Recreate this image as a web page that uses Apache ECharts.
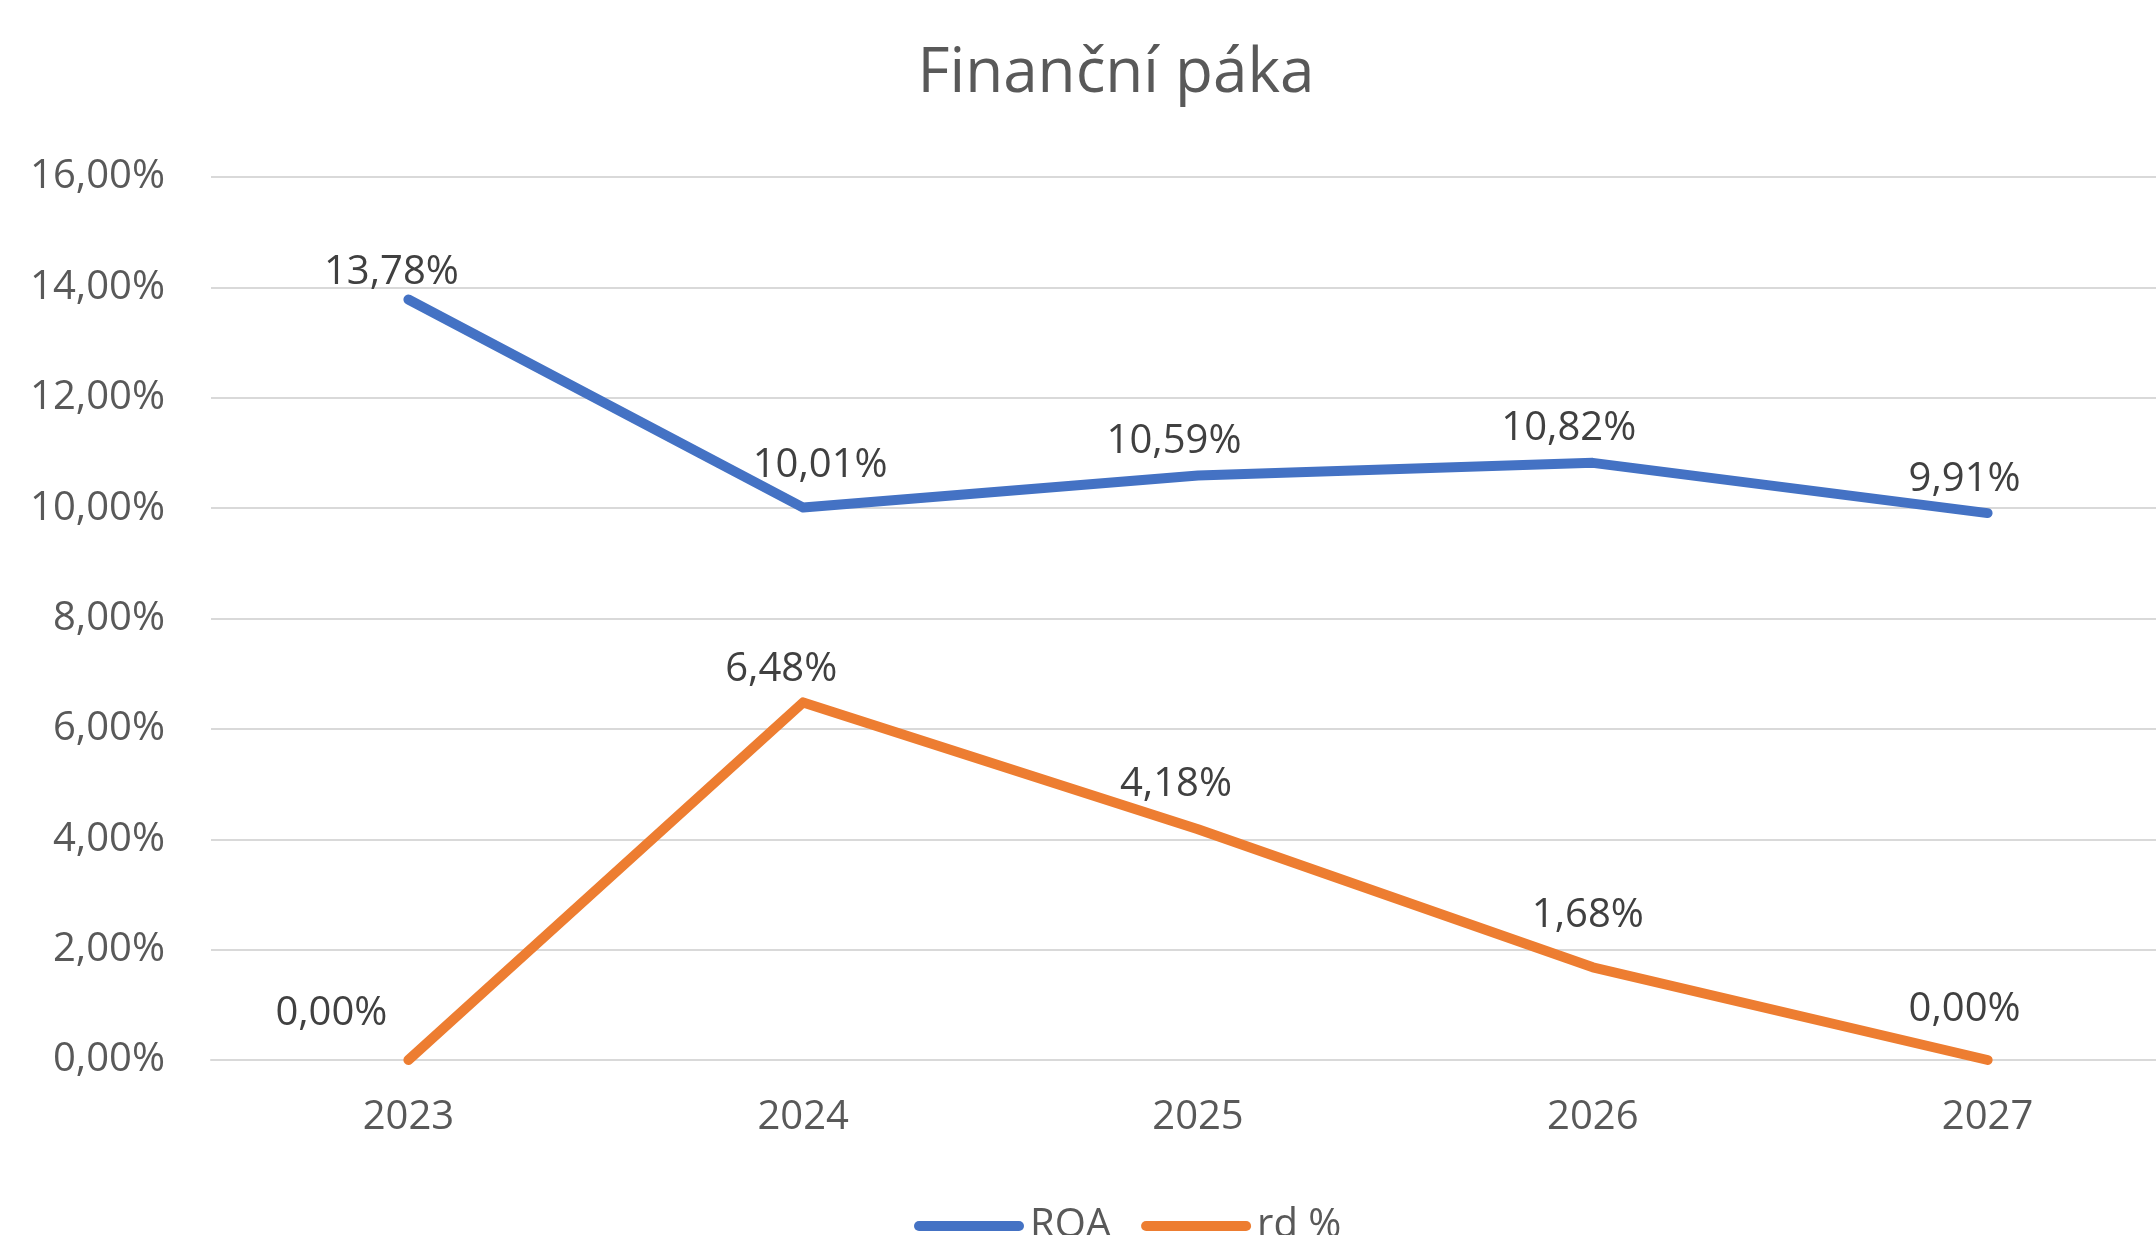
<!DOCTYPE html>
<html>
<head>
<meta charset="utf-8">
<title>Finanční páka</title>
<script src="https://cdn.jsdelivr.net/npm/echarts@6/dist/echarts.min.js"></script>
<style>
  html, body { margin: 0; padding: 0; background: #fff; overflow: hidden; }
  /* wider than the window: the original picture is cropped on the right */
  #chart { width: 2232px; height: 1235px; }
</style>
</head>
<body>
<div id="chart"></div>
<script>
// data (values in %)
const years = ['2023', '2024', '2025', '2026', '2027']
const roa = [13.78, 10.01, 10.59, 10.82, 9.91]
const rd = [0.00, 6.48, 4.18, 1.68, 0.00]
const yTicks = { min: 0, max: 16, step: 2 }

// label nudges so they sit like the original Excel labels
const roaLabelShift = [[-17, -6], [17, -21], [-24, -13], [-24, -13], [-23, -12]]
const rdLabelShift = [[-77, -25], [-22, -12], [-22, -24], [-5, -31], [-23, -29]]

const pct = v => v.toFixed(2).replace('.', ',') + '%'
const FONT = 'Open Sans'

// build series data with per-point label offsets
function withLabels (values, shifts) {
  return values.map((v, i) => ({
    value: v,
    label: { offset: shifts[i] }
  }))
}

function lineSeries (name, color, values, shifts) {
  return {
    name: name,
    type: 'line',
    data: withLabels(values, shifts),
    symbol: 'circle',
    symbolSize: 2,
    showSymbol: true,
    itemStyle: { color: color },
    lineStyle: { color: color, width: 10, cap: 'round', join: 'round' },
    emphasis: { disabled: true },
    label: {
      show: true,
      position: 'top',
      distance: 0,
      formatter: p => pct(p.value),
      color: '#404040',
      fontFamily: FONT,
      fontSize: 40,
      lineHeight: 40
    },
    z: 3
  }
}

const chart = echarts.init(document.getElementById('chart'))

const option = {
  backgroundColor: '#ffffff',
  animation: false,
  title: {
    text: 'Finanční páka',
    left: 'center',
    top: 38,
    textStyle: {
      color: '#595959',
      fontFamily: FONT,
      fontSize: 62,
      fontWeight: 'normal',
      lineHeight: 62
    }
  },
  // plot area runs past the visible right edge
  grid: {
    left: 211,
    top: 177,
    width: 1974,
    height: 883
  },
  legend: {
    left: 909,
    top: 1201,
    itemWidth: 110,
    itemHeight: 10,
    itemGap: 30,
    icon: 'path://M5,0 L105,0 A5,5 0 0 1 105,10 L5,10 A5,5 0 0 1 5,0 Z',
    textStyle: {
      color: '#595959',
      fontFamily: FONT,
      fontSize: 40,
      padding: [0, 0, 0, 1]
    },
    data: ['ROA', 'rd %']
  },
  xAxis: {
    type: 'category',
    data: years,
    boundaryGap: true,
    axisLine: { show: true, lineStyle: { color: '#d9d9d9', width: 2 } },
    axisTick: { show: false },
    axisLabel: {
      color: '#595959',
      fontFamily: FONT,
      fontSize: 40,
      lineHeight: 40,
      margin: 38
    }
  },
  yAxis: {
    type: 'value',
    min: yTicks.min,
    max: yTicks.max,
    interval: yTicks.step,
    axisLine: { show: false },
    axisTick: { show: false },
    splitLine: { lineStyle: { color: '#d9d9d9', width: 2 } },
    axisLabel: {
      color: '#595959',
      fontFamily: FONT,
      fontSize: 40,
      margin: 46,
      formatter: v => pct(v)
    }
  },
  series: [
    lineSeries('ROA', '#4472c4', roa, roaLabelShift),
    lineSeries('rd %', '#ed7d31', rd, rdLabelShift)
  ]
}

chart.setOption(option)
window.addEventListener('resize', () => chart.resize())
</script>
</body>
</html>
